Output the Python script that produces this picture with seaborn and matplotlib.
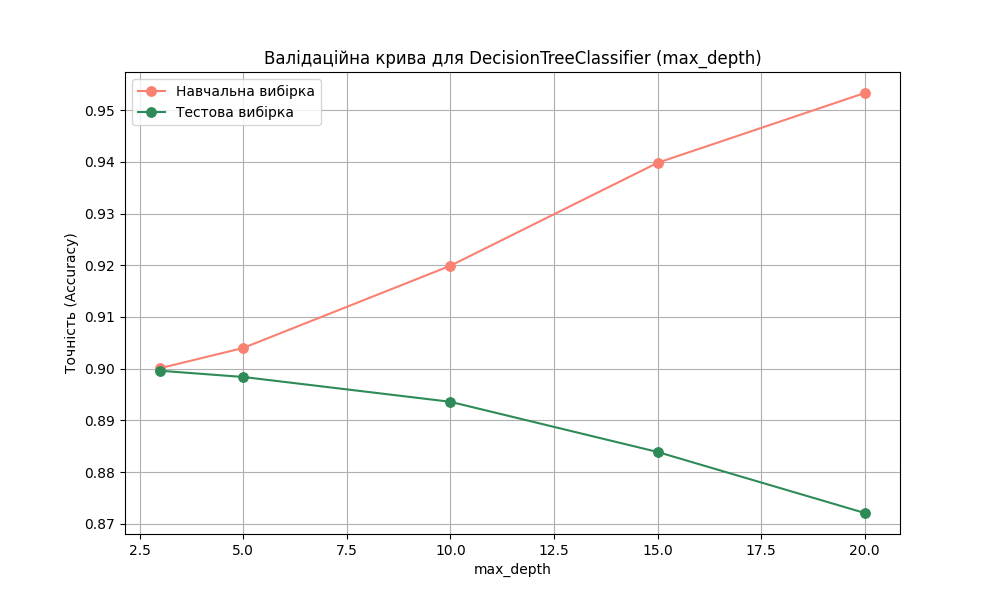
import numpy as np
import pandas as pd
import matplotlib
matplotlib.use("Agg")
import matplotlib.pyplot as plt
import seaborn as sns

max_depth = [3, 5, 10, 15, 20]
train_acc = [0.9001, 0.9040, 0.9199, 0.9398, 0.9533]
test_acc = [0.8996, 0.8984, 0.8936, 0.8839, 0.8721]

fig, ax = plt.subplots(figsize=(10, 6), dpi=100)
sns.lineplot(x=max_depth, y=train_acc, marker="o", color="salmon",
             markeredgecolor="salmon", markersize=7, label="Навчальна вибірка", ax=ax)
sns.lineplot(x=max_depth, y=test_acc, marker="o", color="seagreen",
             markeredgecolor="seagreen", markersize=7, label="Тестова вибірка", ax=ax)

ax.set_title("Валідаційна крива для DecisionTreeClassifier (max_depth)")
ax.set_xlabel("max_depth")
ax.set_ylabel("Точність (Accuracy)")
ax.grid(True)
ax.legend(loc="upper left")

plt.savefig("out.png")
